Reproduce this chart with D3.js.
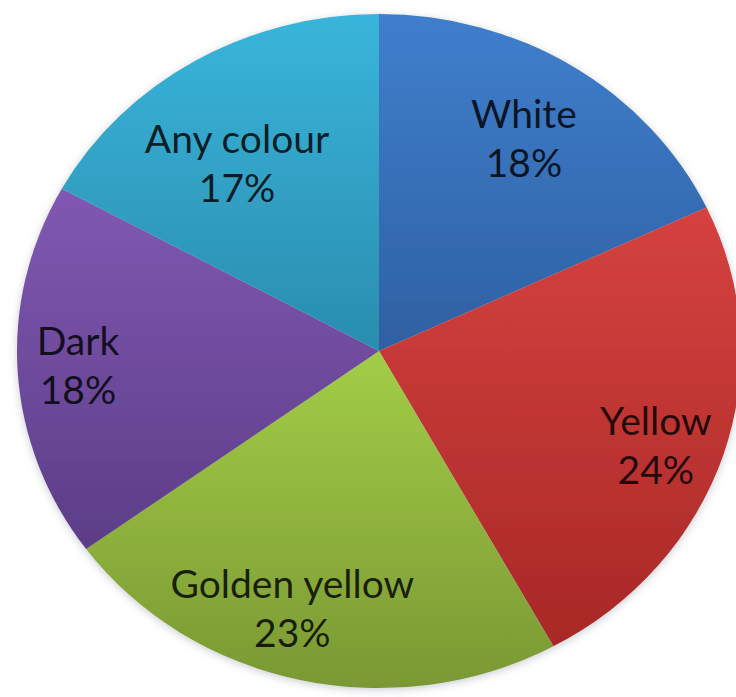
<!DOCTYPE html>
<html>
<head>
<meta charset="utf-8">
<script src="https://cdn.jsdelivr.net/npm/d3@7"></script>
<style>
  html, body { margin: 0; padding: 0; background: #ffffff; }
  svg { display: block; }
</style>
</head>
<body>
<svg id="chart" width="736" height="697"></svg>
<script>
// ---- data ----
const categories = ["White", "Yellow", "Golden yellow", "Dark", "Any colour"];
const values = [18, 24, 23, 18, 17];
const percentLabels = ["18%", "24%", "23%", "18%", "17%"];

// ---- style / layout ----
const topColors    = ["#3f7fcd", "#d5423f", "#a3cd47", "#8058b2", "#39b5db"];
const bottomColors = ["#2f60a2", "#a82826", "#7a9833", "#5c3d87", "#2a8dae"];
// label placement relative to slice bisector (fraction of radius, angle nudge in degrees)
const labelRadius = [0.743, 0.816, 0.805, 0.833, 0.677];
const labelNudge  = [0.2, 2.4, 4.7, 0.3, -4.8];

const W = 736, H = 697;
const cx = 379, cy = 351, rx = 362, ry = 337;

const svg = d3.select("#chart");
const defs = svg.append("defs");

const filter = defs.append("filter").attr("id", "halo")
  .attr("x", "-10%").attr("y", "-10%").attr("width", "120%").attr("height", "120%");
filter.append("feDropShadow")
  .attr("dx", 0).attr("dy", 2).attr("stdDeviation", 4)
  .attr("flood-color", "#8a8f9a").attr("flood-opacity", 0.45);

categories.forEach((c, i) => {
  const g = defs.append("linearGradient").attr("id", "grad" + i)
    .attr("x1", 0).attr("y1", 0).attr("x2", 0).attr("y2", 1);
  g.append("stop").attr("offset", "0%").attr("stop-color", topColors[i]);
  g.append("stop").attr("offset", "100%").attr("stop-color", bottomColors[i]);
});

const pie = d3.pie().sort(null).value(d => d)
  .startAngle(0).endAngle(2 * Math.PI);
const arcs = pie(values);
const arc = d3.arc().innerRadius(0).outerRadius(ry);

const pieG = svg.append("g")
  .attr("transform", `translate(${cx},${cy}) scale(${rx / ry},1)`)
  .attr("filter", "url(#halo)");

pieG.selectAll("path").data(arcs).join("path")
  .attr("d", arc)
  .attr("fill", (d, i) => `url(#grad${i})`);

// labels
const labelG = svg.append("g")
  .attr("font-family", "Lato, 'Open Sans', sans-serif")
  .attr("font-size", 39)
  .attr("fill", "#000")
  .attr("fill-opacity", 0.82)
  .attr("text-anchor", "middle");

arcs.forEach((d, i) => {
  const a = (d.startAngle + d.endAngle) / 2 + labelNudge[i] * Math.PI / 180;
  const x = cx + Math.sin(a) * labelRadius[i] * rx;
  const y = cy - Math.cos(a) * labelRadius[i] * ry;
  const t = labelG.append("text").attr("x", x).attr("y", y);
  t.append("tspan").attr("x", x).attr("y", y - 12).text(categories[i]);
  t.append("tspan").attr("x", x).attr("y", y + 37).text(percentLabels[i]);
});
</script>
</body>
</html>
